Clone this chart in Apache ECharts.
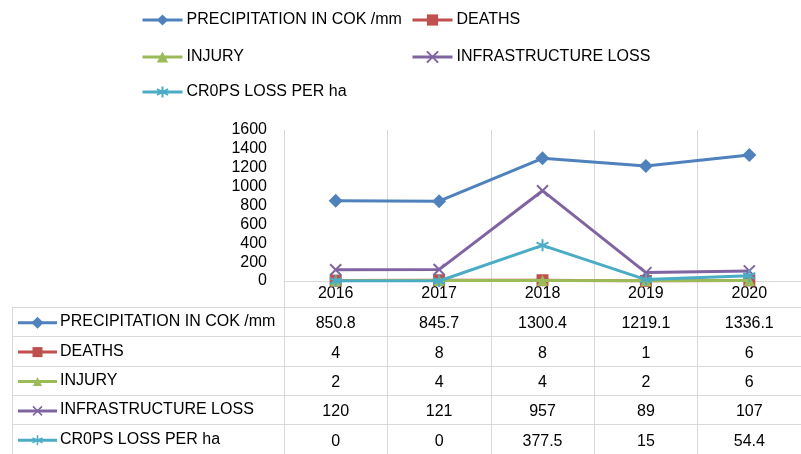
<!DOCTYPE html>
<html>
<head>
<meta charset="utf-8">
<script src="https://cdn.jsdelivr.net/npm/echarts@6/dist/echarts.min.js"></script>
<style>
  html, body { margin: 0; padding: 0; background: #fff; }
  #main { width: 801px; height: 454px; }
</style>
</head>
<body>
<div id="main"></div>
<script>
// data
var years = ['2016', '2017', '2018', '2019', '2020'];
var names = ['PRECIPITATION IN COK /mm', 'DEATHS', 'INJURY', 'INFRASTRUCTURE LOSS', 'CR0PS LOSS PER ha'];
var precipitation = [850.8, 845.7, 1300.4, 1219.1, 1336.1];
var deaths = [4, 8, 8, 1, 6];
var injury = [2, 4, 4, 2, 6];
var infrastructure = [120, 121, 957, 89, 107];
var crops = [0, 0, 377.5, 15, 54.4];

var colors = ['#4F81BD', '#C0504D', '#9BBB59', '#8064A2', '#4BACC6'];
var FONT = 'Liberation Sans';
var FS = 16;
var GRAY = '#d9d9d9';

// marker shapes (box 10x10)
var shapes = [
  'M5,0L10,5L5,10L0,5Z',
  'M0,0L10,0L10,10L0,10Z',
  'M5,0L10,10L0,10Z',
  'M0,0L10,10M10,0L0,10',
  'M5,0L5,10M0,2.5L10,7.5M0,7.5L10,2.5'
];
var symSize = [14, 12, 11, 11, 12];
var stroked = [false, false, false, true, true];
var allValues = [precipitation, deaths, injury, infrastructure, crops];

var myChart = echarts.init(document.getElementById('main'));

var series = names.map(function (n, i) {
  return {
    name: n,
    type: 'line',
    xAxisIndex: 0,
    yAxisIndex: 0,
    data: allValues[i],
    symbol: 'path://' + shapes[i],
    symbolSize: symSize[i],
    lineStyle: { color: colors[i], width: 3 },
    itemStyle: stroked[i]
      ? { color: 'rgba(0,0,0,0)', borderColor: colors[i], borderWidth: 2 }
      : { color: colors[i], borderWidth: 0 },
    z: 3 + i
  };
});

// table cells
var cells = [];
allValues.forEach(function (arr, r) {
  arr.forEach(function (v, c) { cells.push([c, r, String(v)]); });
});
series.push({
  type: 'custom',
  xAxisIndex: 1,
  yAxisIndex: 1,
  data: cells,
  silent: true,
  renderItem: function (params, api) {
    var p = api.coord([api.value(0), api.value(1)]);
    return {
      type: 'text',
      style: {
        x: p[0], y: p[1] + 2,
        text: cells[params.dataIndex][2],
        fill: '#000',
        font: FS + 'px "' + FONT + '"',
        align: 'center',
        verticalAlign: 'middle'
      }
    };
  }
});

// legend keys inside the table's name column
series.push({
  type: 'custom',
  xAxisIndex: 1,
  yAxisIndex: 1,
  data: names.map(function (n, r) { return [0, r]; }),
  silent: true,
  renderItem: function (params, api) {
    var r = params.dataIndex;
    var y = api.coord([0, r])[1] + 1;
    var s = symSize[r] - 2;
    return {
      type: 'group',
      children: [
        { type: 'line', shape: { x1: 18, y1: y, x2: 57, y2: y }, style: { stroke: colors[r], lineWidth: 3 } },
        {
          type: 'path',
          shape: { pathData: shapes[r], x: 37.5 - s / 2, y: y - s / 2, width: s, height: s },
          style: stroked[r]
            ? { fill: null, stroke: colors[r], lineWidth: 1.5 }
            : { fill: colors[r] }
        }
      ]
    };
  }
});

var legendPos = [[136, 7], [406, 7], [136, 44], [406, 44], [136, 79]];
var legends = names.map(function (n, i) {
  return {
    data: [n],
    left: legendPos[i][0],
    top: legendPos[i][1],
    itemWidth: 40,
    itemHeight: 14,
    itemGap: 4,
    selectedMode: false,
    lineStyle: { width: 3 },
    textStyle: { fontFamily: FONT, fontSize: FS, color: '#000', padding: [0, 0, 0, -1] }
  };
});

var option = {
  animation: false,
  legend: legends,
  grid: [
    { left: 284, top: 130, width: 526, height: 151 },
    { left: 284, top: 307, width: 526, height: 150 }
  ],
  xAxis: [
    {
      type: 'category',
      gridIndex: 0,
      data: years,
      boundaryGap: true,
      axisLine: { lineStyle: { color: GRAY, width: 1 } },
      axisTick: { show: true, interval: 0, length: 26, lineStyle: { color: GRAY } },
      axisLabel: { interval: 0, margin: 5, color: '#000', fontFamily: FONT, fontSize: FS },
      splitLine: { show: true, interval: 0, lineStyle: { color: GRAY } }
    },
    {
      type: 'category',
      gridIndex: 1,
      data: years,
      position: 'top',
      boundaryGap: true,
      axisLine: { lineStyle: { color: GRAY, width: 1 } },
      axisTick: { show: false },
      axisLabel: { show: false },
      splitLine: { show: true, interval: 0, lineStyle: { color: GRAY } }
    }
  ],
  yAxis: [
    {
      type: 'value',
      gridIndex: 0,
      min: 0,
      max: 1600,
      interval: 200,
      axisLine: { show: false },
      axisTick: { show: false },
      splitLine: { show: false },
      axisLabel: {
        margin: 17, color: '#000', fontFamily: FONT, fontSize: FS,
        formatter: function (v) { return String(v); }
      }
    },
    {
      type: 'category',
      gridIndex: 1,
      data: names,
      inverse: true,
      boundaryGap: true,
      axisLine: { show: true, lineStyle: { color: GRAY, width: 1 } },
      axisTick: { show: true, interval: 0, length: 272, lineStyle: { color: GRAY } },
      axisLabel: { interval: 0, align: 'left', margin: 224, color: '#000', fontFamily: FONT, fontSize: FS, padding: [3, 0, 0, 0] },
      splitLine: { show: true, interval: 0, lineStyle: { color: GRAY } }
    },
    {
      type: 'value',
      gridIndex: 1,
      position: 'left',
      offset: 272,
      axisLine: { show: true, lineStyle: { color: GRAY, width: 1 } },
      axisTick: { show: false },
      axisLabel: { show: false },
      splitLine: { show: false }
    }
  ],
  series: series
};

myChart.setOption(option);
</script>
</body>
</html>
